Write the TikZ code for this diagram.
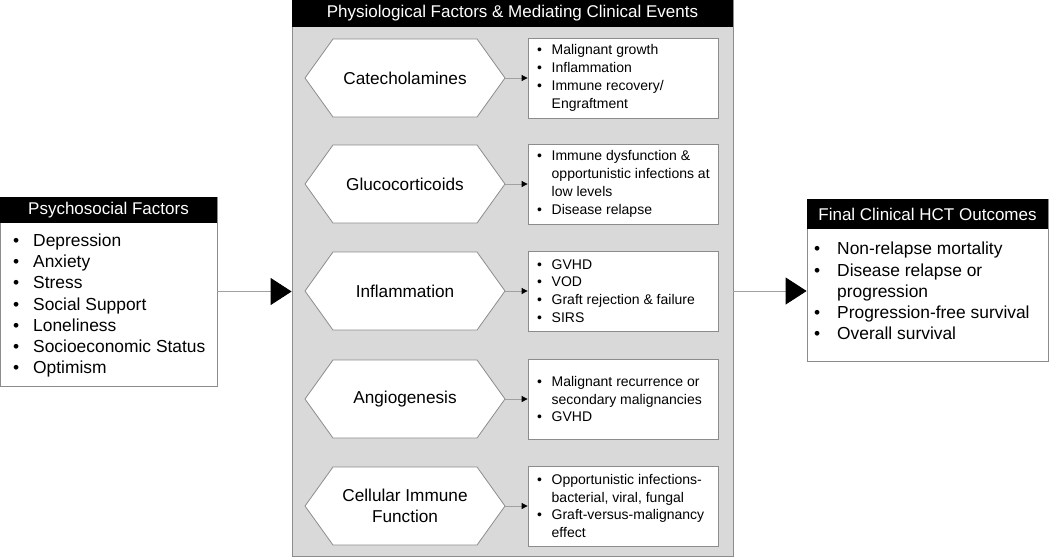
\documentclass[tikz,border=0pt]{standalone}
\usepackage{fontspec}
\setmainfont{Liberation Sans}
\usetikzlibrary{arrows.meta,shapes.symbols}
\definecolor{boxgray}{HTML}{8C8C8C}
\definecolor{panel}{HTML}{D9D9D9}
\definecolor{linegray}{HTML}{A0A0A0}
\newcommand{\bul}[1]{\makebox[#1][l]{\textbullet}}
\newcommand{\ind}[1]{\makebox[#1]{}}
\begin{document}
\begin{tikzpicture}[x=1pt,y=-1pt,
  frame/.style={draw=boxgray, fill=white, line width=0.8pt, inner sep=0pt},
  head/.style={fill=black, text=white, inner sep=0pt, font=\fontsize{17}{20}\selectfont},
  hexa/.style={signal, signal to=east and west, signal pointer angle=108.7, draw=boxgray, fill=white, line width=0.8pt, minimum width=200pt, minimum height=78pt, inner sep=0pt, font=\fontsize{17.2}{21.5}\selectfont, align=center},
  evbox/.style={frame, minimum width=190pt, minimum height=80pt},
  evtext/.style={anchor=west, inner sep=0pt, align=left, font=\fontsize{14}{17.8}\selectfont},
  biglist/.style={anchor=west, inner sep=0pt, align=left, font=\fontsize{17.4}{21.2}\selectfont},
  bigarrow/.style={draw=linegray, line width=0.8pt, -{Triangle[length=21pt,width=27pt,color=black]}},
  smallarrow/.style={draw=linegray, line width=0.8pt, -{Triangle[length=6pt,width=6pt,color=black]}}
]
\useasboundingbox (0,0) rectangle (1050,558);

% Left box
\node[frame, minimum width=217pt, minimum height=189pt] (psy) at (108.5,291.5) {};
\node[head, minimum width=217pt, minimum height=26pt] (psyh) at (108.5,210) {Psychosocial Factors};
\node[biglist] (psyl) at (13,305.5) {\bul{20pt}Depression\\ \bul{20pt}Anxiety\\ \bul{20pt}Stress\\ \bul{20pt}Social Support\\ \bul{20pt}Loneliness\\ \bul{20pt}Socioeconomic Status\\ \bul{20pt}Optimism};

% Middle panel
\node[draw=boxgray, fill=panel, line width=0.8pt, minimum width=441pt, minimum height=556pt, inner sep=0pt] (phys) at (512.5,278) {};
\node[head, minimum width=441pt, minimum height=27pt] (physh) at (512.5,13.5) {Physiological Factors \& Mediating Clinical Events};

\node[hexa] (h1) at (405,78) {Catecholamines};
\node[hexa] (h2) at (405,184) {Glucocorticoids};
\node[hexa] (h3) at (405,291) {Inflammation};
\node[hexa] (h4) at (405,399) {Angiogenesis};
\node[hexa] (h5) at (405,506) {Cellular Immune\\Function};

\node[evbox] (e1) at (623,78) {};
\node[evbox] (e2) at (623,184) {};
\node[evbox] (e3) at (623,291) {};
\node[evbox] (e4) at (623,399) {};
\node[evbox] (e5) at (623,506) {};

\node[evtext] (t1) at (537,78) {\bul{14.5pt}Malignant growth\\ \bul{14.5pt}Inflammation\\ \bul{14.5pt}Immune recovery/\\ \ind{14.5pt}Engraftment};
\node[evtext] (t2) at (537,184) {\bul{14.5pt}Immune dysfunction \&\\ \ind{14.5pt}opportunistic infections at\\ \ind{14.5pt}low levels\\ \bul{14.5pt}Disease relapse};
\node[evtext] (t3) at (537,291) {\bul{14.5pt}GVHD\\ \bul{14.5pt}VOD\\ \bul{14.5pt}Graft rejection \& failure\\ \bul{14.5pt}SIRS};
\node[evtext] (t4) at (537,399) {\bul{14.5pt}Malignant recurrence or\\ \ind{14.5pt}secondary malignancies\\ \bul{14.5pt}GVHD};
\node[evtext] (t5) at (537,506) {\bul{14.5pt}Opportunistic infections-\\ \ind{14.5pt}bacterial, viral, fungal\\ \bul{14.5pt}Graft-versus-malignancy\\ \ind{14.5pt}effect};

\foreach \i in {1,...,5} \draw[smallarrow] (h\i.east) -- (e\i.west);

% Right box
\node[frame, minimum width=241pt, minimum height=162pt] (out) at (927.5,280) {};
\node[head, minimum width=241pt, minimum height=30pt] (outh) at (927.5,214) {Final Clinical HCT Outcomes};
\node[biglist] (outl) at (814,291) {\bul{23pt}Non-relapse mortality\\ \bul{23pt}Disease relapse or\\ \ind{23pt}progression\\ \bul{23pt}Progression-free survival\\ \bul{23pt}Overall survival};

% Main arrows
\draw[bigarrow] (psy.east) -- (psy.east -| phys.west);
\draw[bigarrow] (phys.east |- h3) -- (out.west |- h3);
\end{tikzpicture}
\end{document}
